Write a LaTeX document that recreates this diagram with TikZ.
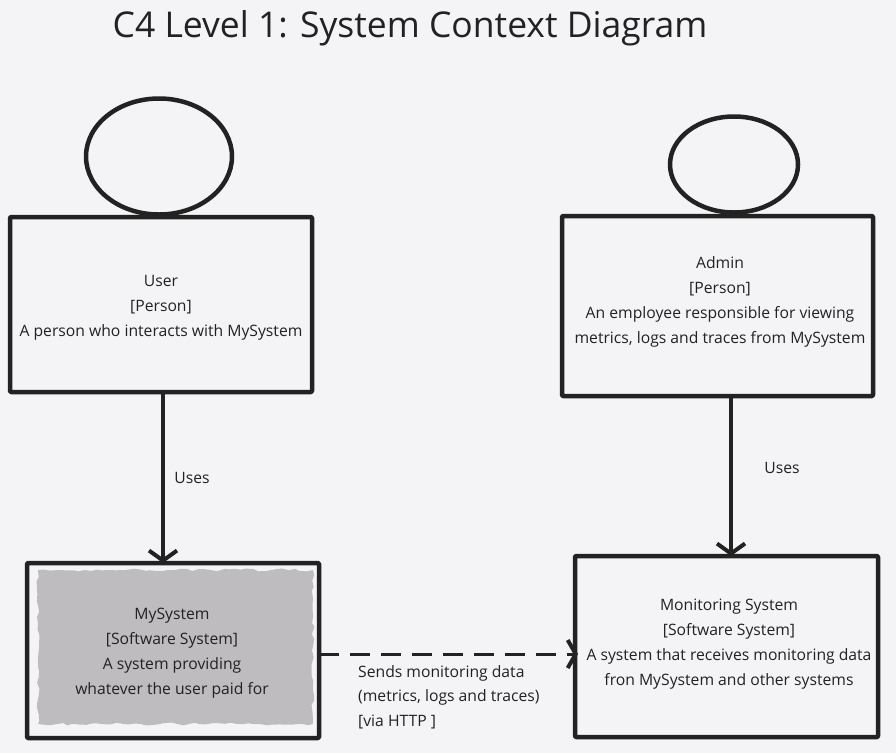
\documentclass[tikz,border=0pt]{standalone}
\usepackage{fontspec}
\setmainfont{Open Sans}
\usetikzlibrary{arrows.meta,decorations.pathmorphing,shapes.geometric}
\definecolor{bg}{HTML}{F4F4F6}
\definecolor{ink}{HTML}{222222}
\definecolor{sysgrey}{HTML}{BEBCBF}
\tikzset{
  every node/.style={text=ink, font=\fontsize{15.7}{25}\selectfont},
  boxshape/.style={draw=ink, line width=4.5pt, line join=round, rounded corners=1pt},
  head/.style={draw=ink, line width=4.5pt},
  txt/.style={align=center, inner sep=0pt},
  rel/.style={draw=ink, line width=4.5pt, -{Straight Barb[length=10pt,width=28pt,line width=4pt]}},
  reldash/.style={draw=ink, line width=3pt, dash pattern=on 20pt off 11pt, -{Straight Barb[length=8pt,width=28pt,line width=4pt]}},
  lbl/.style={inner sep=0pt, font=\fontsize{15.7}{24.5}\selectfont}
}
\begin{document}
\begin{tikzpicture}[x=1pt,y=-1pt]
\fill[bg] (0,0) rectangle (896,753);
\useasboundingbox (0,0) rectangle (896,753);

\node[inner sep=0pt, font=\fontsize{35.5}{42}\selectfont] (title) at (410,28) {C4 Level 1: System Context Diagram};

% User
\draw[boxshape] (10,217) rectangle (312,392);
\draw[head] (159,156.5) ellipse [x radius=73, y radius=58];
\node[txt] (user) at (161,307.5) {User\\{}[Person]\\A person who interacts with MySystem};
\coordinate (userbot) at (163,392);

% Admin
\draw[boxshape] (562,216) rectangle (873,396);
\draw[head] (734,164.5) ellipse [x radius=64, y radius=48];
\node[txt] (admin) at (720,301.5) {Admin\\{}[Person]\\An employee responsible for viewing\\metrics, logs and traces from MySystem};
\coordinate (adminbot) at (731,396);

% MySystem
\fill[sysgrey, decorate, decoration={random steps, segment length=6pt, amplitude=1.5pt}] (38,570) rectangle (313,724);
\draw[boxshape] (27,563) rectangle (319,738);
\node[txt] (mysys) at (172,653.5) {MySystem\\{}[Software System]\\A system providing\\whatever the user paid for};
\coordinate (mysystop) at (163,563);
\coordinate (mysysright) at (319,654);

% Monitoring
\draw[boxshape] (575,556) rectangle (878,737);
\node[txt] (mon) at (729,644.5) {Monitoring System\\{}[Software System]\\A system that receives monitoring data\\fron MySystem and other systems};
\coordinate (montop) at (731,556);
\coordinate (monleft) at (578,654);

% relations
\draw[rel] (userbot) -- (mysystop);
\node[lbl] (uses1) at (192,478) {Uses};
\draw[rel] (adminbot) -- (montop);
\node[lbl] (uses2) at (782,468) {Uses};
\draw[reldash] (mysysright) -- (monleft);
\node[lbl, align=left, anchor=north west] (sends) at (358,665) {Sends monitoring data\\(metrics, logs and traces)\\{}[via HTTP ]};
\end{tikzpicture}
\end{document}
